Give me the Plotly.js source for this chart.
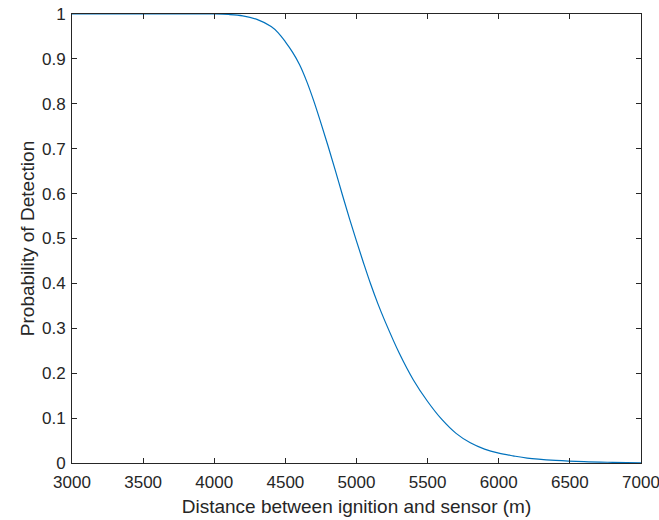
<!DOCTYPE html>
<html>
<head>
<meta charset="utf-8">
<script src="https://cdn.plot.ly/plotly-3.0.1.min.js"></script>
<style>html,body{margin:0;padding:0;background:#fff;}#chart{width:659px;height:520px;}</style>
</head>
<body>
<div id="chart"></div>
<script>
// Distance between ignition and sensor (m)
const distance = [3000, 3500, 4000, 4100, 4200, 4300, 4400, 4450, 4500, 4550, 4600, 4650, 4700, 4750, 4800,
  4850, 4900, 4950, 5000, 5050, 5100, 5150, 5200, 5300, 5400, 5500, 5600, 5700, 5800, 5900, 6000,
  6100, 6200, 6400, 6600, 6800, 7000];
// Probability of Detection
const probability = [1.0, 1.0, 1.0, 0.999, 0.996, 0.988, 0.972, 0.958, 0.938, 0.915, 0.887, 0.850, 0.806, 0.757, 0.706,
  0.653, 0.598, 0.545, 0.494, 0.445, 0.398, 0.355, 0.316, 0.245, 0.185, 0.137, 0.097, 0.066, 0.045, 0.031, 0.022,
  0.016, 0.011, 0.006, 0.003, 0.0015, 0.0005];
const xTicks = [3000, 3500, 4000, 4500, 5000, 5500, 6000, 6500, 7000];
const yTicks = [0, 0.1, 0.2, 0.3, 0.4, 0.5, 0.6, 0.7, 0.8, 0.9, 1];
const yTickText = ['0', '0.1', '0.2', '0.3', '0.4', '0.5', '0.6', '0.7', '0.8', '0.9', '1'];

const axisColor = '#262626';
const trace = {
  x: distance, y: probability, type: 'scatter', mode: 'lines',
  line: {color: '#0072BD', width: 1.2, shape: 'spline', smoothing: 1},
  hoverinfo: 'x+y'
};
const layout = {
  width: 659, height: 520,
  margin: {l: 72, r: 18, t: 14, b: 57},
  paper_bgcolor: '#ffffff', plot_bgcolor: '#ffffff',
  font: {family: '"Liberation Sans", Arial, sans-serif', color: axisColor, size: 17},
  showlegend: false,
  xaxis: {
    range: [3000, 7000], tickvals: xTicks, ticktext: xTicks.map(String),
    showgrid: false, zeroline: false,
    showline: true, linecolor: axisColor, linewidth: 1, mirror: 'ticks',
    ticks: 'inside', ticklen: 5, tickcolor: axisColor, tickwidth: 1,
    tickfont: {size: 17, color: axisColor}, ticklabelstandoff: 4, ticklabeloverflow: 'allow',
    title: {text: 'Distance between ignition and sensor (m)', font: {size: 19, color: axisColor}, standoff: 8},
    automargin: false
  },
  yaxis: {
    range: [0, 1], tickvals: yTicks, ticktext: yTickText,
    showgrid: false, zeroline: false,
    showline: true, linecolor: axisColor, linewidth: 1, mirror: 'ticks',
    ticks: 'inside', ticklen: 5, tickcolor: axisColor, tickwidth: 1,
    tickfont: {size: 17, color: axisColor}, ticklabelstandoff: 2,
    title: {text: 'Probability of Detection', font: {size: 19, color: axisColor}, standoff: 2},
    automargin: false
  }
};
Plotly.newPlot('chart', [trace], layout, {staticPlot: true, displayModeBar: false});
</script>
</body>
</html>
